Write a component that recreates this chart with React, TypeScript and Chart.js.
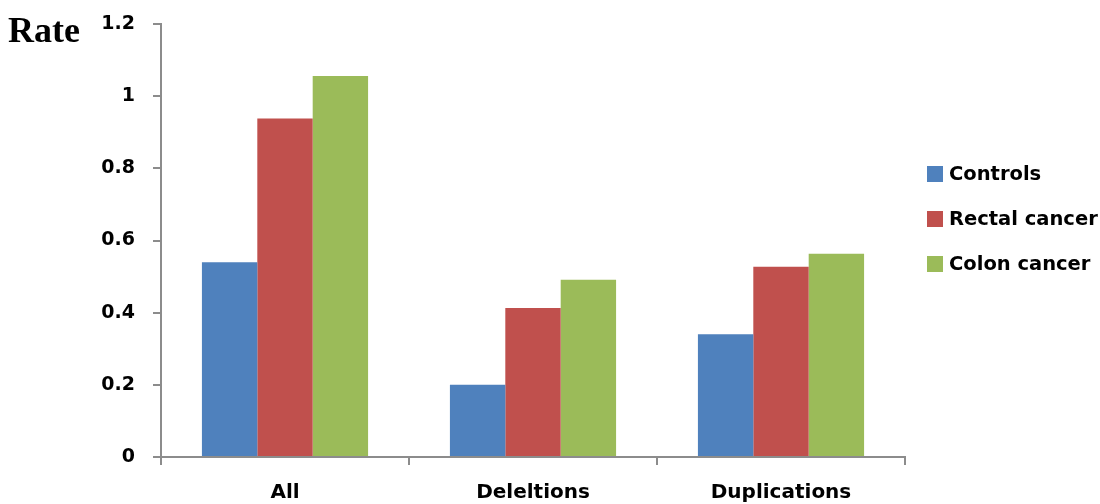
import React, { useEffect, useRef } from "react";
import { Chart, registerables } from "chart.js";

Chart.register(...registerables);

// Mutation rate per group
const categories = ["All", "Deleltions", "Duplications"];
const seriesNames = ["Controls", "Rectal cancer", "Colon cancer"];
const controls = [0.54, 0.2, 0.34];
const rectalCancer = [0.938, 0.413, 0.527];
const colonCancer = [1.056, 0.491, 0.563];
const seriesColors = ["#4F81BD", "#C0504D", "#9BBB59"];
const axisTitle = "Rate";

const AXIS_GRAY = "#8C8C8C";

// Draws the "Rate" heading and the legend to the right of the plot.
const decorations = {
  id: "decorations",
  afterDraw(chart: any) {
    const ctx = chart.ctx as CanvasRenderingContext2D;
    ctx.save();
    ctx.fillStyle = "#000";
    ctx.font = "bold 36px 'Liberation Serif', serif";
    ctx.textAlign = "left";
    ctx.textBaseline = "alphabetic";
    ctx.fillText(axisTitle, 8, 42);

    const boxX = 927;
    const textX = 949;
    const firstY = 174;
    const step = 45;
    ctx.font = "bold 19.5px 'DejaVu Sans', sans-serif";
    ctx.textBaseline = "middle";
    chart.data.datasets.forEach((ds: any, i: number) => {
      const cy = firstY + i * step;
      ctx.fillStyle = ds.backgroundColor;
      ctx.fillRect(boxX, cy - 8, 16, 16);
      ctx.fillStyle = "#000";
      ctx.fillText(ds.label, textX, cy + 1);
    });
    ctx.restore();
  },
};

export default function App() {
  const canvasRef = useRef<HTMLCanvasElement | null>(null);

  useEffect(() => {
    if (!canvasRef.current) return;
    const seriesValues = [controls, rectalCancer, colonCancer];
    const chart = new Chart(canvasRef.current, {
      type: "bar",
      data: {
        labels: categories,
        datasets: seriesNames.map((name, i) => ({
          label: name,
          data: seriesValues[i],
          backgroundColor: seriesColors[i],
          borderWidth: 0,
          categoryPercentage: 0.67,
          barPercentage: 1.0,
        })),
      },
      options: {
        animation: false,
        responsive: true,
        maintainAspectRatio: false,
        layout: { padding: { top: 24, right: 195, left: 0, bottom: 0 } },
        plugins: {
          legend: { display: false },
          tooltip: { enabled: false },
        },
        scales: {
          x: {
            grid: {
              offset: true,
              drawOnChartArea: false,
              drawTicks: true,
              tickLength: 8,
              color: AXIS_GRAY,
              lineWidth: 2,
            },
            border: { display: true, color: AXIS_GRAY, width: 2 },
            ticks: {
              color: "#000",
              padding: 16,
              font: { family: "'DejaVu Sans', sans-serif", size: 20, weight: "bold" },
            },
            afterFit(scale: any) {
              scale.height = 47;
            },
          },
          y: {
            min: 0,
            max: 1.2,
            grid: {
              drawOnChartArea: false,
              drawTicks: true,
              tickLength: 8,
              color: AXIS_GRAY,
              lineWidth: 2,
            },
            border: { display: true, color: AXIS_GRAY, width: 2 },
            ticks: {
              stepSize: 0.2,
              color: "#000",
              padding: 18,
              font: { family: "'DejaVu Sans', sans-serif", size: 19, weight: "bold" },
              callback: (v: any) => String(Math.round(Number(v) * 10) / 10),
            },
            afterFit(scale: any) {
              scale.width = 161;
              scale.paddingTop = 12;
              scale.paddingBottom = 12;
            },
          },
        },
      },
      plugins: [decorations],
    });
    return () => chart.destroy();
  }, []);

  return (
    <div style={{ position: "fixed", left: 0, top: 0, width: 1100, height: 504, background: "#fff" }}>
      <canvas ref={canvasRef} />
    </div>
  );
}
